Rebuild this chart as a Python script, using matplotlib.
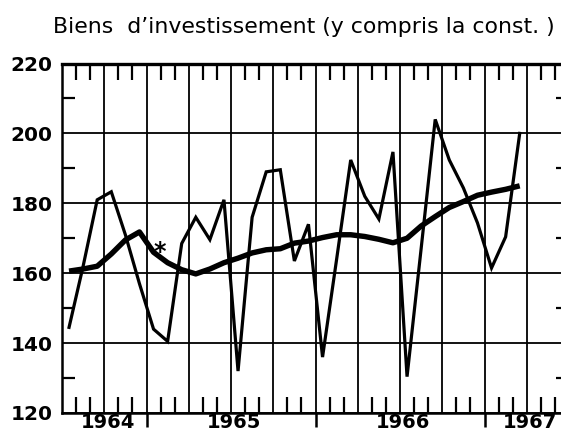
"""
Investment goods index (1964-1967): monthly values and trend line,
redrawn in the style of an old printed statistical chart.
"""

import numpy as np
import matplotlib
matplotlib.use("Agg")  # non-interactive backend
import matplotlib.pyplot as plt
import matplotlib.transforms as mtransforms
from matplotlib.ticker import MultipleLocator, FixedLocator, NullFormatter

TITLE = "Biens  d\u2019investissement (y compris la const. )"

# monthly series, July 1964 .. March 1967
start_year = 1964.5
monthly = [144.5, 162, 181, 183.3, 171, 157,
           144, 140.5, 168.5, 176, 169.6, 181,
           132, 176, 189, 189.6, 163.5, 174,
           136, 164, 192.4, 182, 175.5, 194.7,
           130.4, 167, 204, 192.4, 184.4, 174.4,
           161.5, 170.4, 200]

# trend (thick line), same months
trend = [160.6, 161.2, 162, 165.5, 169.5, 171.8,
         166, 163, 161, 159.8, 161.2, 163,
         164.3, 165.8, 166.7, 167, 168.6, 169.2,
         170.2, 171, 171, 170.5, 169.7, 168.7,
         170, 173.5, 176.2, 178.8, 180.5, 182.3,
         183.2, 184, 185]

year_labels = ["1964", "1965", "1966", "1967"]
year_starts = [1964, 1965, 1966, 1967]
y_ticks = [120, 140, 160, 180, 200, 220]

# where the asterisk note sits (x in years, y in index points)
star_pos = (1965.08, 164.1)

x_min, x_max = 1964.5, 1967.5
y_min, y_max = 120, 220

x = start_year + (np.arange(len(monthly)) + 0.5) / 12.0

fig = plt.figure(figsize=(5.61, 4.32), dpi=100)
ax = fig.add_axes([62 / 561, 19 / 432, 507 / 561, 349.5 / 432])

ax.plot(x, monthly, color="black", lw=2.3, solid_joinstyle="miter", zorder=3)
ax.plot(x, trend, color="black", lw=3.9, solid_capstyle="butt", zorder=4)
ax.text(star_pos[0], star_pos[1], "*", fontsize=17, fontweight="bold",
        ha="center", va="baseline", zorder=5)

ax.set_xlim(x_min, x_max)
ax.set_ylim(y_min, y_max)

# quarter grid, monthly minor ticks
ax.xaxis.set_major_locator(MultipleLocator(0.25))
ax.xaxis.set_minor_locator(MultipleLocator(1 / 12))
ax.xaxis.set_major_formatter(NullFormatter())
ax.yaxis.set_major_locator(FixedLocator(y_ticks))
ax.yaxis.set_minor_locator(MultipleLocator(10))
ax.grid(True, which="major", color="black", lw=1.3, zorder=1)

ax.tick_params(axis="x", which="major", length=0)
ax.tick_params(axis="x", which="minor", direction="in", length=11.5, width=1.6,
               top=True, bottom=True)
ax.tick_params(axis="y", which="major", length=0, pad=7,
               labelsize=14.5, labelcolor="black")
ax.tick_params(axis="y", which="minor", direction="in", length=9.5, width=1.6,
               left=True, right=True)
for lab in ax.get_yticklabels():
    lab.set_fontweight("bold")

for side in ["left", "right", "bottom"]:
    ax.spines[side].set_linewidth(1.8)
ax.spines["top"].set_linewidth(2.4)

# year boundaries stick out below the frame
sec = ax.secondary_xaxis("bottom")
sec.set_xticks(year_starts[1:])
sec.tick_params(direction="out", length=10, width=1.8)
sec.xaxis.set_major_formatter(NullFormatter())
sec.spines["bottom"].set_visible(False)

# year labels centred on the visible part of each year
trans = mtransforms.blended_transform_factory(
    ax.transData, ax.transAxes + mtransforms.ScaledTranslation(0, -15 / 100, fig.dpi_scale_trans))
for label, yr in zip(year_labels, year_starts):
    lo, hi = max(yr, x_min), min(yr + 1, x_max)
    ax.text((lo + hi) / 2 + 0.02, 0, label, transform=trans, ha="center",
            va="baseline", fontsize=14, fontweight="bold", clip_on=False)

fig.text(53 / 561, 1 - 33 / 432, TITLE, fontsize=15.8, ha="left",
         va="baseline")

fig.savefig("out.png", dpi=100, facecolor="white")
plt.close(fig)
